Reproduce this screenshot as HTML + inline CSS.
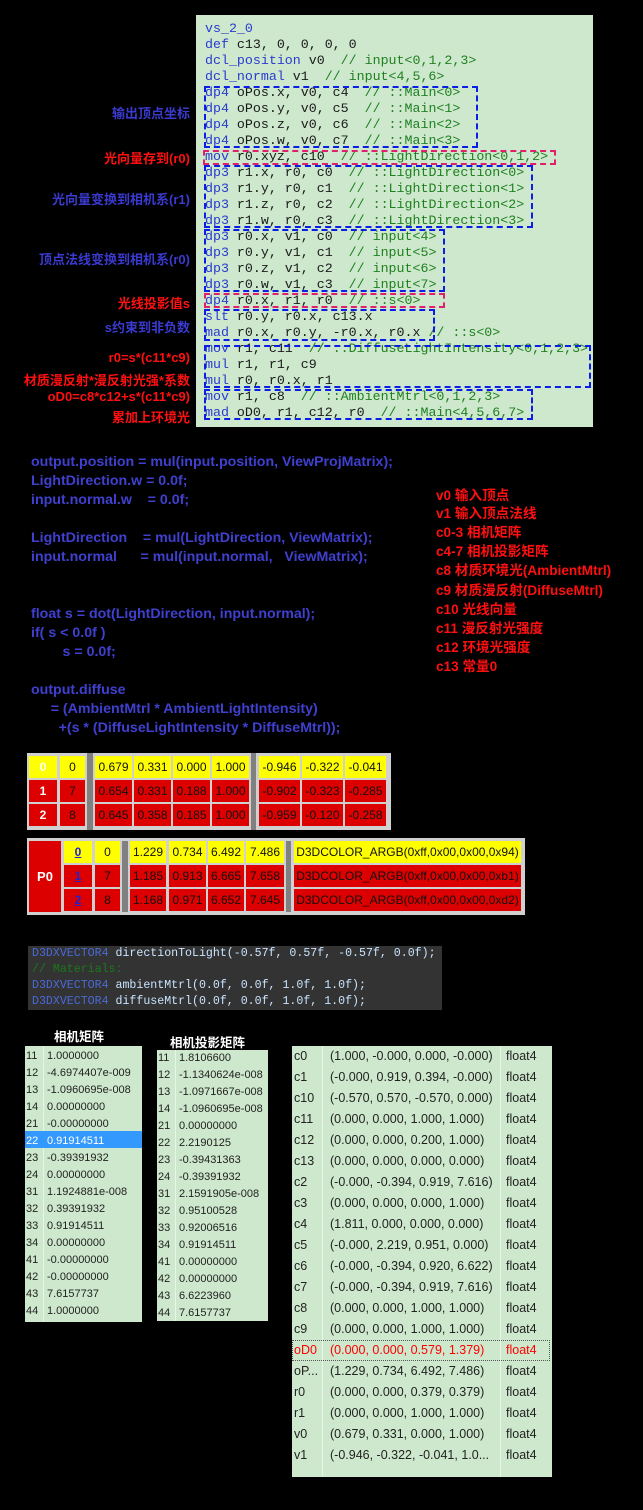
<!DOCTYPE html>
<html><head><meta charset="utf-8"><style>
body{margin:0;width:643px;height:1510px;background:#000;position:relative;overflow:hidden;font-family:"Liberation Sans","Noto Sans CJK SC",sans-serif}
div{position:absolute;box-sizing:border-box}
.code{left:196px;top:15px;width:397px;height:412px;background:#cde8cc}
.ln{left:205px;font:13.3px/16px "Liberation Mono",monospace;color:#1a1a1a;white-space:pre}
.k{color:#2a3ad0}.c{color:#208020}
.bx{border:2px dashed #0a1ee6}.pk{border:2px dashed #e0206a}
.lb{right:453px;font-weight:bold;font-size:13px;white-space:nowrap;text-align:right}
.bl{color:#3a3ad0}.rd{color:#ff1010}
.h{left:31px;font-size:14.2px;font-weight:bold;color:#4040d0;white-space:pre}
.r{left:436px;font-size:13.6px;font-weight:bold;color:#ff1010;white-space:nowrap}
.cell{height:22px;font-size:12px;line-height:22px;text-align:center;color:#111}
.y{background:#ffff00}.R{background:#dd0000}.g{background:#808080}
.mt{font:11px/17px "Liberation Sans",sans-serif;color:#222;white-space:nowrap}
.dl{font:11.6px/16px "Liberation Mono",monospace;left:32px;white-space:pre;color:#c8e4ff}
</style></head><body>
<div class="code"></div>
<div class="ln" style="top:21px"><span class="k">vs_2_0</span></div>
<div class="ln" style="top:37px"><span class="k">def</span> c13, 0, 0, 0, 0</div>
<div class="ln" style="top:53px"><span class="k">dcl_position</span> v0  <span class="c">// input&lt;0,1,2,3&gt;</span></div>
<div class="ln" style="top:69px"><span class="k">dcl_normal</span> v1  <span class="c">// input&lt;4,5,6&gt;</span></div>
<div class="ln" style="top:85px"><span class="k">dp4</span> oPos.x, v0, c4  <span class="c">// ::Main&lt;0&gt;</span></div>
<div class="ln" style="top:101px"><span class="k">dp4</span> oPos.y, v0, c5  <span class="c">// ::Main&lt;1&gt;</span></div>
<div class="ln" style="top:117px"><span class="k">dp4</span> oPos.z, v0, c6  <span class="c">// ::Main&lt;2&gt;</span></div>
<div class="ln" style="top:133px"><span class="k">dp4</span> oPos.w, v0, c7  <span class="c">// ::Main&lt;3&gt;</span></div>
<div class="ln" style="top:149px"><span class="k">mov</span> r0.xyz, c10  <span class="c">// ::LightDirection&lt;0,1,2&gt;</span></div>
<div class="ln" style="top:165px"><span class="k">dp3</span> r1.x, r0, c0  <span class="c">// ::LightDirection&lt;0&gt;</span></div>
<div class="ln" style="top:181px"><span class="k">dp3</span> r1.y, r0, c1  <span class="c">// ::LightDirection&lt;1&gt;</span></div>
<div class="ln" style="top:197px"><span class="k">dp3</span> r1.z, r0, c2  <span class="c">// ::LightDirection&lt;2&gt;</span></div>
<div class="ln" style="top:213px"><span class="k">dp3</span> r1.w, r0, c3  <span class="c">// ::LightDirection&lt;3&gt;</span></div>
<div class="ln" style="top:229px"><span class="k">dp3</span> r0.x, v1, c0  <span class="c">// input&lt;4&gt;</span></div>
<div class="ln" style="top:245px"><span class="k">dp3</span> r0.y, v1, c1  <span class="c">// input&lt;5&gt;</span></div>
<div class="ln" style="top:261px"><span class="k">dp3</span> r0.z, v1, c2  <span class="c">// input&lt;6&gt;</span></div>
<div class="ln" style="top:277px"><span class="k">dp3</span> r0.w, v1, c3  <span class="c">// input&lt;7&gt;</span></div>
<div class="ln" style="top:293px"><span class="k">dp4</span> r0.x, r1, r0  <span class="c">// ::s&lt;0&gt;</span></div>
<div class="ln" style="top:309px"><span class="k">slt</span> r0.y, r0.x, c13.x</div>
<div class="ln" style="top:325px"><span class="k">mad</span> r0.x, r0.y, -r0.x, r0.x <span class="c">// ::s&lt;0&gt;</span></div>
<div class="ln" style="top:341px"><span class="k">mov</span> r1, c11  <span class="c">// ::DiffuseLightIntensity&lt;0,1,2,3&gt;</span></div>
<div class="ln" style="top:357px"><span class="k">mul</span> r1, r1, c9</div>
<div class="ln" style="top:373px"><span class="k">mul</span> r0, r0.x, r1</div>
<div class="ln" style="top:389px"><span class="k">mov</span> r1, c8  <span class="c">// ::AmbientMtrl&lt;0,1,2,3&gt;</span></div>
<div class="ln" style="top:405px"><span class="k">mad</span> oD0, r1, c12, r0  <span class="c">// ::Main&lt;4,5,6,7&gt;</span></div>
<div class="bx" style="left:204px;top:86px;width:274px;height:62px"></div>
<div class="pk" style="left:203px;top:150px;width:353px;height:15px"></div>
<div class="bx" style="left:204px;top:165px;width:329px;height:63px"></div>
<div class="bx" style="left:204px;top:229px;width:241px;height:63px"></div>
<div class="pk" style="left:204px;top:293px;width:241px;height:15px"></div>
<div class="bx" style="left:204px;top:309px;width:231px;height:32px"></div>
<div class="bx" style="left:204px;top:345px;width:387px;height:43px"></div>
<div class="bx" style="left:204px;top:389px;width:329px;height:31px"></div>
<div class="lb bl" style="top:103px">输出顶点坐标</div>
<div class="lb rd" style="top:148px">光向量存到(r0)</div>
<div class="lb bl" style="top:189px">光向量变换到相机系(r1)</div>
<div class="lb bl" style="top:249px">顶点法线变换到相机系(r0)</div>
<div class="lb rd" style="top:293px">光线投影值s</div>
<div class="lb bl" style="top:317px">s约束到非负数</div>
<div class="lb rd" style="top:350px">r0=s*(c11*c9)</div>
<div class="lb rd" style="top:370px">材质漫反射*漫反射光强*系数</div>
<div class="lb rd" style="top:389px">oD0=c8*c12+s*(c11*c9)</div>
<div class="lb rd" style="top:407px">累加上环境光</div>
<div class="h" style="top:454px">output.position = mul(input.position, ViewProjMatrix);</div>
<div class="h" style="top:473px">LightDirection.w = 0.0f;</div>
<div class="h" style="top:492px">input.normal.w    = 0.0f;</div>
<div class="h" style="top:530px">LightDirection    = mul(LightDirection, ViewMatrix);</div>
<div class="h" style="top:549px">input.normal      = mul(input.normal,   ViewMatrix);</div>
<div class="h" style="top:606px">float s = dot(LightDirection, input.normal);</div>
<div class="h" style="top:625px">if( s &lt; 0.0f )</div>
<div class="h" style="top:644px">        s = 0.0f;</div>
<div class="h" style="top:682px">output.diffuse</div>
<div class="h" style="top:701px">     = (AmbientMtrl * AmbientLightIntensity)</div>
<div class="h" style="top:720px">       +(s * (DiffuseLightIntensity * DiffuseMtrl));</div>
<div class="r" style="top:484px">v0 输入顶点</div>
<div class="r" style="top:502px">v1 输入顶点法线</div>
<div class="r" style="top:521px">c0-3 相机矩阵</div>
<div class="r" style="top:540px">c4-7 相机投影矩阵</div>
<div class="r" style="top:559px">c8 材质环境光(AmbientMtrl)</div>
<div class="r" style="top:579px">c9 材质漫反射(DiffuseMtrl)</div>
<div class="r" style="top:598px">c10 光线向量</div>
<div class="r" style="top:617px">c11 漫反射光强度</div>
<div class="r" style="top:636px">c12 环境光强度</div>
<div class="r" style="top:655px">c13 常量0</div>

<div style="left:27px;top:753px;width:364px;height:77px;background:#d0d0d0"></div>
<div class="g" style="left:87px;top:753px;width:6px;height:77px"></div>
<div class="g" style="left:251px;top:753px;width:5px;height:77px"></div>
<div class="cell y" style="left:29px;top:756px;width:28px;color:#fff;font-weight:bold">0</div>
<div class="cell y" style="left:60px;top:756px;width:25px">0</div>
<div class="cell y" style="left:95px;top:756px;width:37px">0.679</div>
<div class="cell y" style="left:134px;top:756px;width:37px">0.331</div>
<div class="cell y" style="left:173px;top:756px;width:37px">0.000</div>
<div class="cell y" style="left:212px;top:756px;width:37px">1.000</div>
<div class="cell y" style="left:259px;top:756px;width:41px">-0.946</div>
<div class="cell y" style="left:302px;top:756px;width:41px">-0.322</div>
<div class="cell y" style="left:345px;top:756px;width:41px">-0.041</div>
<div class="cell R" style="left:29px;top:780px;width:28px;color:#fff;font-weight:bold">1</div>
<div class="cell R" style="left:60px;top:780px;width:25px">7</div>
<div class="cell R" style="left:95px;top:780px;width:37px">0.654</div>
<div class="cell R" style="left:134px;top:780px;width:37px">0.331</div>
<div class="cell R" style="left:173px;top:780px;width:37px">0.188</div>
<div class="cell R" style="left:212px;top:780px;width:37px">1.000</div>
<div class="cell R" style="left:259px;top:780px;width:41px">-0.902</div>
<div class="cell R" style="left:302px;top:780px;width:41px">-0.323</div>
<div class="cell R" style="left:345px;top:780px;width:41px">-0.285</div>
<div class="cell R" style="left:29px;top:804px;width:28px;color:#fff;font-weight:bold">2</div>
<div class="cell R" style="left:60px;top:804px;width:25px">8</div>
<div class="cell R" style="left:95px;top:804px;width:37px">0.645</div>
<div class="cell R" style="left:134px;top:804px;width:37px">0.358</div>
<div class="cell R" style="left:173px;top:804px;width:37px">0.185</div>
<div class="cell R" style="left:212px;top:804px;width:37px">1.000</div>
<div class="cell R" style="left:259px;top:804px;width:41px">-0.959</div>
<div class="cell R" style="left:302px;top:804px;width:41px">-0.120</div>
<div class="cell R" style="left:345px;top:804px;width:41px">-0.258</div>

<div style="left:27px;top:838px;width:498px;height:77px;background:#d0d0d0"></div>
<div class="g" style="left:122px;top:841px;width:6px;height:71px"></div>
<div class="g" style="left:286px;top:841px;width:5px;height:71px"></div>
<div class="R" style="left:29px;top:841px;width:32px;height:71px;color:#fff;font-weight:bold;font-size:13px;line-height:71px;text-align:center">P0</div>
<div class="cell y" style="left:64px;top:841px;width:28px;color:#22c;text-decoration:underline;font-weight:bold">0</div>
<div class="cell y" style="left:95px;top:841px;width:25px">0</div>
<div class="cell y" style="left:130px;top:841px;width:36px">1.229</div>
<div class="cell y" style="left:169px;top:841px;width:37px">0.734</div>
<div class="cell y" style="left:208px;top:841px;width:36px">6.492</div>
<div class="cell y" style="left:246px;top:841px;width:38px">7.486</div>
<div class="cell y" style="left:294px;top:841px;width:227px">D3DCOLOR_ARGB(0xff,0x00,0x00,0x94)</div>
<div class="cell R" style="left:64px;top:865px;width:28px;color:#22c;text-decoration:underline;font-weight:bold">1</div>
<div class="cell R" style="left:95px;top:865px;width:25px">7</div>
<div class="cell R" style="left:130px;top:865px;width:36px">1.185</div>
<div class="cell R" style="left:169px;top:865px;width:37px">0.913</div>
<div class="cell R" style="left:208px;top:865px;width:36px">6.665</div>
<div class="cell R" style="left:246px;top:865px;width:38px">7.658</div>
<div class="cell R" style="left:294px;top:865px;width:227px">D3DCOLOR_ARGB(0xff,0x00,0x00,0xb1)</div>
<div class="cell R" style="left:64px;top:889px;width:28px;color:#22c;text-decoration:underline;font-weight:bold">2</div>
<div class="cell R" style="left:95px;top:889px;width:25px">8</div>
<div class="cell R" style="left:130px;top:889px;width:36px">1.168</div>
<div class="cell R" style="left:169px;top:889px;width:37px">0.971</div>
<div class="cell R" style="left:208px;top:889px;width:36px">6.652</div>
<div class="cell R" style="left:246px;top:889px;width:38px">7.645</div>
<div class="cell R" style="left:294px;top:889px;width:227px">D3DCOLOR_ARGB(0xff,0x00,0x00,0xd2)</div>

<div style="left:28px;top:946px;width:414px;height:64px;background:#333"></div>
<div class="dl" style="top:946px"><span style="color:#4a6ad8">D3DXVECTOR4</span> directionToLight(-0.57f, 0.57f, -0.57f, 0.0f);</div>
<div class="dl" style="top:962px;color:#1a7a1a">// Materials:</div>
<div class="dl" style="top:978px"><span style="color:#4a6ad8">D3DXVECTOR4</span> ambientMtrl(0.0f, 0.0f, 1.0f, 1.0f);</div>
<div class="dl" style="top:994px"><span style="color:#4a6ad8">D3DXVECTOR4</span> diffuseMtrl(0.0f, 0.0f, 1.0f, 1.0f);</div>

<div style="left:54px;top:1026px;color:#fff;font-weight:bold;font-size:12.5px">相机矩阵</div>
<div style="left:170px;top:1032px;color:#fff;font-weight:bold;font-size:12.5px">相机投影矩阵</div>

<div style="left:25px;top:1046px;width:117px;height:276px;background:#cde8cc"></div>
<div style="left:43px;top:1046px;width:1px;height:276px;background:#e8f4e8"></div>
<div style="left:25px;top:1131px;width:117px;height:17px;background:#3399ff"></div>
<div style="left:157px;top:1050px;width:111px;height:271px;background:#cde8cc"></div>
<div style="left:175px;top:1050px;width:1px;height:271px;background:#e8f4e8"></div>

<div class="mt" style="left:26px;top:1048px">11<br>12<br>13<br>14<br>21<br><span style="color:#fff">22</span><br>23<br>24<br>31<br>32<br>33<br>34<br>41<br>42<br>43<br>44</div>
<div class="mt" style="left:47px;top:1048px">1.0000000<br>-4.6974407e-009<br>-1.0960695e-008<br>0.00000000<br>-0.00000000<br><span style="color:#fff">0.91914511</span><br>-0.39391932<br>0.00000000<br>1.1924881e-008<br>0.39391932<br>0.91914511<br>0.00000000<br>-0.00000000<br>-0.00000000<br>7.6157737<br>1.0000000</div>
<div class="mt" style="left:158px;top:1050px">11<br>12<br>13<br>14<br>21<br>22<br>23<br>24<br>31<br>32<br>33<br>34<br>41<br>42<br>43<br>44</div>
<div class="mt" style="left:179px;top:1050px">1.8106600<br>-1.1340624e-008<br>-1.0971667e-008<br>-1.0960695e-008<br>0.00000000<br>2.2190125<br>-0.39431363<br>-0.39391932<br>2.1591905e-008<br>0.95100528<br>0.92006516<br>0.91914511<br>0.00000000<br>0.00000000<br>6.6223960<br>7.6157737</div>

<div style="left:292px;top:1046px;width:260px;height:431px;background:#cde8cc"></div>
<div style="left:322px;top:1046px;width:1px;height:431px;background:#e8f4e8"></div>
<div style="left:500px;top:1046px;width:1px;height:431px;background:#e8f4e8"></div>
<div style="left:292px;top:1340px;width:258px;height:21px;border:1px dotted #555"></div>
<div class="mt" style="left:294px;top:1046px;font-size:12.5px;line-height:21px">c0<br>c1<br>c10<br>c11<br>c12<br>c13<br>c2<br>c3<br>c4<br>c5<br>c6<br>c7<br>c8<br>c9<br><span style="color:#f00">oD0</span><br>oP...<br>r0<br>r1<br>v0<br>v1</div>
<div class="mt" style="left:330px;top:1046px;font-size:12.5px;line-height:21px">(1.000, -0.000, 0.000, -0.000)<br>(-0.000, 0.919, 0.394, -0.000)<br>(-0.570, 0.570, -0.570, 0.000)<br>(0.000, 0.000, 1.000, 1.000)<br>(0.000, 0.000, 0.200, 1.000)<br>(0.000, 0.000, 0.000, 0.000)<br>(-0.000, -0.394, 0.919, 7.616)<br>(0.000, 0.000, 0.000, 1.000)<br>(1.811, 0.000, 0.000, 0.000)<br>(-0.000, 2.219, 0.951, 0.000)<br>(-0.000, -0.394, 0.920, 6.622)<br>(-0.000, -0.394, 0.919, 7.616)<br>(0.000, 0.000, 1.000, 1.000)<br>(0.000, 0.000, 1.000, 1.000)<br><span style="color:#f00">(0.000, 0.000, 0.579, 1.379)</span><br>(1.229, 0.734, 6.492, 7.486)<br>(0.000, 0.000, 0.379, 0.379)<br>(0.000, 0.000, 1.000, 1.000)<br>(0.679, 0.331, 0.000, 1.000)<br>(-0.946, -0.322, -0.041, 1.0...</div>
<div class="mt" style="left:506px;top:1046px;font-size:12.5px;line-height:21px">float4<br>float4<br>float4<br>float4<br>float4<br>float4<br>float4<br>float4<br>float4<br>float4<br>float4<br>float4<br>float4<br>float4<br><span style="color:#f00">float4</span><br>float4<br>float4<br>float4<br>float4<br>float4</div>
</body></html>
